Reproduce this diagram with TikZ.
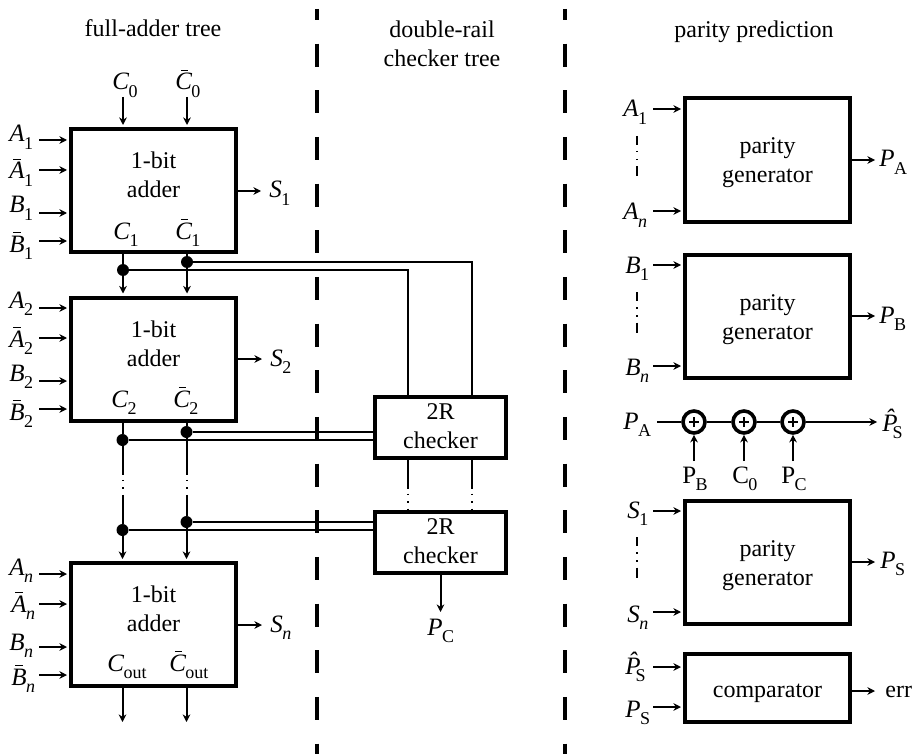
\documentclass[tikz,border=0pt]{standalone}
\usepackage{fontspec}
\usetikzlibrary{arrows.meta}
\setmainfont{Liberation Serif}
\newcommand{\rlab}[2]{{\fontsize{12.5}{14}\selectfont #1\kern-.3pt\raisebox{-3.7pt}{\fontsize{9}{10}\selectfont #2}}}
\newcommand{\vlab}[2]{\rlab{\textit{#1}}{#2}}
\newcommand{\barred}[1]{\textit{#1}\llap{\raisebox{9.4pt}{\rule{3.8pt}{.5pt}}\kern1.8pt}}
\newcommand{\hatted}[1]{\textit{\^{#1}}\kern-2.2pt}
\tikzset{
	blockbox/.style={draw,line width=2pt,inner sep=0pt,align=center},
	adderbox/.style={blockbox,minimum width=82.5pt,minimum height=61.5pt,text height=22pt,text depth=15pt},
	paritybox/.style={blockbox,minimum width=82.5pt,minimum height=61.5pt,text height=30pt,text depth=7pt},
	checkbox/.style={blockbox,minimum width=65.5pt,minimum height=30.5pt,text height=25pt,text depth=4.5pt},
	compbox/.style={blockbox,minimum width=82.5pt,minimum height=34pt,text height=9.5pt,text depth=0pt},
	wiredot/.style={circle,fill=black,inner sep=0pt,minimum size=6pt},
	xorgate/.style={circle,draw,line width=1.8pt,inner sep=0pt,minimum size=11pt,
		path picture={\draw[line width=.7pt] (path picture bounding box.center) +(-5,0) -- +(5,0) +(0,-5) -- +(0,5);}},
	wire/.style={line width=1pt},
	sig/.style={wire,->,shorten >=1pt},
	brk/.style={wire,dash pattern=on 14.5pt off 2.25pt on .75pt off 3pt on .75pt off 3pt on 100pt},
	brkfar/.style={wire,dash pattern=on 18.5pt off 2.25pt on .75pt off 3pt on .75pt off 3pt on 100pt},
	brkin/.style={wire,dash pattern=on 4.5pt off 3pt on .75pt off 3.25pt on .75pt off 3pt on 5pt},
	divider/.style={line width=2pt,dash pattern=on 11.5pt off 11.83pt,dash phase=6pt},
	lab/.style={inner sep=0pt,anchor=base west}
}
\begin{document}
\begin{tikzpicture}[x=.5pt,y=-.5pt,>={Stealth[length=3.8pt,width=3.8pt]},font=\fontsize{12}{14.5}\selectfont]
	\useasboundingbox (0,0) rectangle (914,754);
	\node [inner sep=0pt,anchor=base] (titleFA) at (153,37) {full-adder tree};
	\node [inner sep=0pt,anchor=base,align=center] (titleDR) at (442,67) {double-rail\\checker tree};
	\node [inner sep=0pt,anchor=base] (titlePP) at (754,38) {parity prediction};
	\coordinate (divAtop) at (317,9);
	\coordinate (divAbot) at (317,754);
	\coordinate (divBtop) at (565,9);
	\coordinate (divBbot) at (565,754);
	\draw [divider] (divAtop) -- (divAbot);
	\draw [divider] (divBtop) -- (divBbot);
	\node [adderbox] (add1) at (153.5,190.5) {1-bit\\adder};
	\node [adderbox] (add2) at (153.5,359) {1-bit\\adder};
	\node [adderbox] (add3) at (153.5,624.5) {1-bit\\adder};
	\node [checkbox] (chk1) at (440.5,427.5) {2R\\checker};
	\node [checkbox] (chk2) at (440.5,542.5) {2R\\checker};
	\node [paritybox] (parA) at (767.5,160) {parity\\generator};
	\node [paritybox] (parB) at (767.5,316) {parity\\generator};
	\node [paritybox] (parS) at (767.5,562) {parity\\generator};
	\node [compbox] (comp) at (767.5,688) {comparator};
	\foreach \nm/\tgt/\ax/\ay/\lx/\ly/\txt in {
		Aa/add1/39/140/9/142/\vlab{A}{1}, Ab/add1/39/170/9/179/\vlab{\barred{A}}{1},
		Ba/add1/39/213/9/213/\vlab{B}{1}, Bb/add1/39/241/9/252/\vlab{\barred{B}}{1},
		Ac/add2/39/308/9/308/\vlab{A}{2}, Ad/add2/39/338/9/347/\vlab{\barred{A}}{2},
		Bc/add2/39/381/9/381/\vlab{B}{2}, Bd/add2/39/409/9/420/\vlab{\barred{B}}{2},
		Ae/add3/39/574/9/575/\vlab{A}{\textit{n}}, Af/add3/39/604/11/612/\vlab{\barred{A}}{\textit{n}},
		Be/add3/39/647/9/650/\vlab{B}{\textit{n}}, Bf/add3/39/675/11/685/\vlab{\barred{B}}{\textit{n}},
		Ra/parA/653/109/623/117/\vlab{A}{1}, Rb/parA/653/211/623/220/\vlab{A}{\textit{n}},
		Rc/parB/653/265/625/273/\vlab{B}{1}, Rd/parB/653/366/625/375/\vlab{B}{\textit{n}},
		Re/parS/653/511/627/518/\vlab{S}{1}, Rf/parS/653/612/627/622/\vlab{S}{\textit{n}},
		Rg/comp/653/667/625/674/\vlab{\hatted{P}}{S}, Rh/comp/653/707/625/717/\vlab{P}{S}} {
		\node [lab] (lab\nm) at (\lx,\ly) {\txt};
		\coordinate (in\nm) at (\ax,\ay);
		\draw [sig] (in\nm) -- (in\nm -| \tgt.west);
	}
	\foreach \nm/\src/\ay/\ax/\lx/\ly/\txt in {
		Sa/add1/191/263/269/198/\vlab{S}{1}, Sb/add2/359/264/270/366/\vlab{S}{2},
		Sc/add3/625/264/270/632/\vlab{S}{\textit{n}},
		Pa/parA/160/877/879/167/\vlab{P}{A}, Pb/parB/316/877/879/323/\vlab{P}{B},
		Pc/parS/562/877/880/568/\vlab{P}{S}, Er/comp/691/877/885/697/err} {
		\node [lab] (lab\nm) at (\lx,\ly) {\txt};
		\coordinate (out\nm) at (\ax,\ay);
		\draw [sig] (out\nm -| \src.east) -- (out\nm);
	}
	\foreach \nm/\lx/\ly/\txt in {
		Ca/113/239/\vlab{C}{1}, Cb/175/239/\vlab{\barred{C}}{1},
		Cc/111/407/\vlab{C}{2}, Cd/173/407/\vlab{\barred{C}}{2},
		Ce/107/671/\vlab{C}{out}, Cf/169/671/\vlab{\barred{C}}{out}} {
		\node [lab] (lab\nm) at (\lx,\ly) {\txt};
	}
	\coordinate (railE) at (408,0);
	\coordinate (railF) at (472,0);
	\node [lab] (labC0) at (112,90) {\vlab{C}{0}};
	\node [lab] (labD0) at (175,90) {\vlab{\barred{C}}{0}};
	\coordinate (inC0) at (123,97);
	\coordinate (inD0) at (187,97);
	\draw [sig] (inC0) -- (inC0 |- add1.north);
	\draw [sig] (inD0) -- (inD0 |- add1.north);
	\node [wiredot] (dotC1) at (123,270) {};
	\node [wiredot] (dotD1) at (187,262) {};
	\node [wiredot] (dotC2) at (122.5,440) {};
	\node [wiredot] (dotD2) at (186.5,432) {};
	\node [wiredot] (dotC3) at (122.5,530) {};
	\node [wiredot] (dotD3) at (186.5,522) {};
	\draw [wire] (dotC1 |- add1.south) -- (dotC1);
	\draw [wire] (dotD1 |- add1.south) -- (dotD1);
	\draw [sig] (dotC1) -- (dotC1 |- add2.north);
	\draw [sig] (dotD1) -- (dotD1 |- add2.north);
	\draw [wire] (dotC2 |- add2.south) -- (dotC2);
	\draw [wire] (dotD2 |- add2.south) -- (dotD2);
	\draw [brk] (dotC2) -- (dotC3);
	\draw [brkfar] (dotD2) -- (dotD3);
	\draw [sig] (dotC3) -- (dotC3 |- add3.north);
	\draw [sig] (dotD3) -- (dotD3 |- add3.north);
	\coordinate (endC) at (122.5,724);
	\coordinate (endD) at (186.5,724);
	\draw [sig] (endC |- add3.south) -- (endC);
	\draw [sig] (endD |- add3.south) -- (endD);
	\draw [wire] (dotC1) -- (dotC1 -| railE) -- (railE |- chk1.north);
	\draw [wire] (dotD1) -- (dotD1 -| railF) -- (railF |- chk1.north);
	\draw [wire] (dotC2) -- (dotC2 -| chk1.west);
	\draw [wire] (dotD2) -- (dotD2 -| chk1.west);
	\draw [wire] (dotC3) -- (dotC3 -| chk2.west);
	\draw [wire] (dotD3) -- (dotD3 -| chk2.west);
	\draw [brk] (railE |- chk1.south) -- (railE |- chk2.north);
	\draw [brk] (railF |- chk1.south) -- (railF |- chk2.north);
	\coordinate (outPC) at (440.5,612);
	\node [lab] (labPC) at (427,635) {\vlab{P}{C}};
	\draw [wire,->] (chk2.south) -- (outPC);
	\foreach \nm/\ya/\yb in {A/136/177,B/292/333,S/537/578} {
		\coordinate (dotsTop\nm) at (637,\ya);
		\coordinate (dotsBot\nm) at (637,\yb);
		\draw [brkin] (dotsTop\nm) -- (dotsBot\nm);
	}
	\node [lab] (labXin) at (623,429) {\vlab{P}{A}};
	\node [lab] (labXout) at (882,431) {\vlab{\hatted{P}}{S}};
	\coordinate (xIn) at (657,422);
	\coordinate (xOut) at (877,422);
	\coordinate (feedRow) at (0,461);
	\node [xorgate] (xor1) at (694,422) {};
	\node [xorgate] (xor2) at (744,422) {};
	\node [xorgate] (xor3) at (793,422) {};
	\draw [wire] (xIn) -- (xor1);
	\draw [wire] (xor1) -- (xor2);
	\draw [wire] (xor2) -- (xor3);
	\draw [wire,->] (xor3) -- (xOut);
	\foreach \nm/\lx/\txt in {1/682/\rlab{P}{B},2/732/\rlab{C}{0},3/781/\rlab{P}{C}} {
		\node [lab] (labX\nm) at (\lx,483) {\txt};
		\coordinate (feed\nm) at (xor\nm |- feedRow);
		\draw [wire,->] (feed\nm) -- (xor\nm.south);
	}
\end{tikzpicture}
\end{document}
